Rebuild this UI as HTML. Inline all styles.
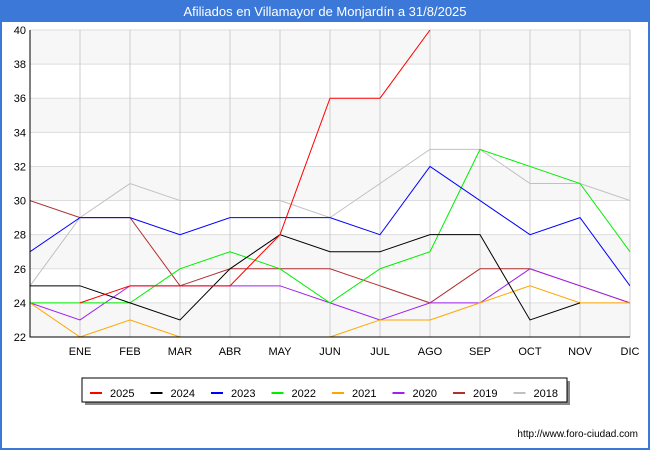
<!DOCTYPE html>
<html><head><meta charset="utf-8"><style>
body{margin:0;width:650px;height:450px;background:#fff;font-family:"Liberation Sans",sans-serif;overflow:hidden}
</style></head><body>
<svg id="c" width="650" height="450" xmlns="http://www.w3.org/2000/svg" font-family="Liberation Sans, sans-serif">
<rect x="0" y="0" width="650" height="22" fill="#3b78d8"/>
<text x="325" y="16" fill="#fff" font-size="13" text-anchor="middle">Afiliados en Villamayor de Monjardín a 31/8/2025</text>
<rect x="0" y="22" width="2" height="428" fill="#3b78d8"/><rect x="648" y="22" width="2" height="428" fill="#3b78d8"/><rect x="0" y="448" width="650" height="2" fill="#3b78d8"/>
<defs><clipPath id="pc"><rect x="30" y="30" width="600" height="307"/></clipPath></defs>
<g id="grid"></g><g id="series" clip-path="url(#pc)"></g><g id="axes"></g>
<text x="638" y="437" font-size="10" text-anchor="end" fill="#000">http://www.foro-ciudad.com</text>
</svg>
<script>
const months=["","ENE","FEB","MAR","ABR","MAY","JUN","JUL","AGO","SEP","OCT","NOV","DIC"];
const yTicks=[22,24,26,28,30,32,34,36,38,40];
const seriesNames=["2025","2024","2023","2022","2021","2020","2019","2018"];
const colors=["#ff0000","#000000","#0000ff","#00ee00","#ffa500","#a020f0","#b03030","#c0c0c0"];
const s2025=[null,24,25,25,25,28,36,36,40,null,null,null,null];
const s2024=[25,25,24,23,26,28,27,27,28,28,23,24,null];
const s2023=[27,29,29,28,29,29,29,28,32,30,28,29,25];
const s2022=[24,24,24,26,27,26,24,26,27,33,32,31,27];
const s2021=[24,22,23,22,21,21,22,23,23,24,25,24,24];
const s2020=[24,23,25,25,25,25,24,23,24,24,26,25,24];
const s2019=[30,29,29,25,26,26,26,25,24,26,26,25,24];
const s2018=[25,29,31,30,30,30,29,31,33,33,31,31,30];
const data=[s2025,s2024,s2023,s2022,s2021,s2020,s2019,s2018];
const X0=30,X1=630,Y0=337,Y1=30;
const x=i=>X0+i*(X1-X0)/12;
const y=v=>Y0-(v-22)*(Y0-Y1)/18;
const NS="http://www.w3.org/2000/svg";
function mk(t,a,p){const e=document.createElementNS(NS,t);for(const k in a)e.setAttribute(k,a[k]);p.appendChild(e);return e;}
const g=document.getElementById('grid'),sg=document.getElementById('series'),ax=document.getElementById('axes');
for(let k=0;k<yTicks.length-1;k++){if(k%2===0){const r=mk('rect',{x:X0,y:y(yTicks[k+1]),width:X1-X0,height:y(yTicks[k])-y(yTicks[k+1]),fill:'#f7f7f7'},g);}}
yTicks.forEach(v=>{const l=mk('line',{x1:X0,x2:X1,y1:y(v),y2:y(v),stroke:'#dddddd'},g);
const t=mk('text',{x:X0-4,y:y(v)+4,'font-size':11,'text-anchor':'end'},ax);t.textContent=v;});
months.forEach((m,i)=>{if(i>0){const l=mk('line',{x1:x(i),x2:x(i),y1:Y1,y2:Y0,stroke:'#cccccc'},g);
const t=mk('text',{x:x(i),y:Y0+18,'font-size':11,'text-anchor':'middle'},ax);t.textContent=m;}});
const axl=mk('path',{d:`M${X0},${Y1}V${Y0}H${X1}`,fill:'none',stroke:'#000'},ax);
for(let s=data.length-1;s>=0;s--){let d='',pen=false;data[s].forEach((v,i)=>{if(v===null){pen=false;return;}d+=(pen?'L':'M')+x(i)+','+y(v);pen=true;});
const p=mk('path',{d:d,fill:'none',stroke:colors[s],'stroke-width':1},sg);}
const lg=mk('g',{},ax);
mk('rect',{x:85,y:381,width:485,height:24,fill:'#888'},lg);
mk('rect',{x:82,y:378,width:485,height:24,fill:'#fff',stroke:'#000'},lg);
seriesNames.forEach((n,k)=>{const lx=90+k*60.5;const e=mk('g',{},lg);
mk('line',{x1:lx,x2:lx+12,y1:393,y2:393,stroke:colors[k],'stroke-width':2},e);
const t=mk('text',{x:lx+20,y:397,'font-size':11},e);t.textContent=n;});
</script>
</body></html>
